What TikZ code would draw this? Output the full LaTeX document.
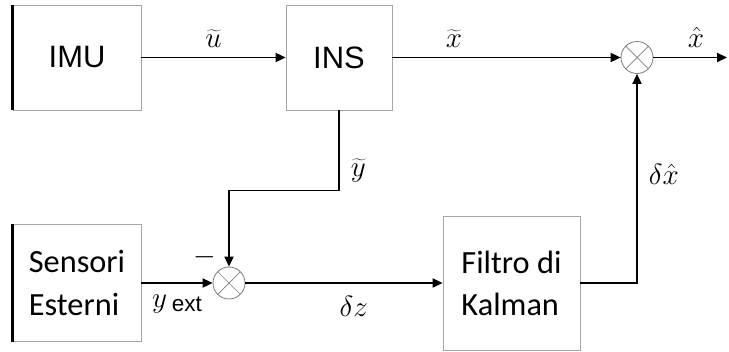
\documentclass[tikz,border=0pt]{standalone}
\usepackage{fontspec}
\setsansfont{Liberation Sans}
\newfontfamily\calibri{Carlito}
\usetikzlibrary{arrows.meta}
\tikzstyle{block} = [rectangle, 
draw=gray!70, 
line width=0.6pt, 
text centered, 
font=\fontsize{22}{26}\selectfont\sffamily]
\tikzstyle{textblock} = [rectangle, 
draw=gray!70, 
line width=0.6pt, 
align=left, 
font=\fontsize{23}{30}\selectfont\calibri]
\tikzstyle{mult} = [circle, 
draw=gray, 
line width=0.6pt, 
minimum size=0.8cm, 
inner sep=0pt, 
path picture={\draw[gray, line width=0.5pt]
  (path picture bounding box.center) ++(45:0.4cm) -- ++(225:0.8cm)
  (path picture bounding box.center) ++(135:0.4cm) -- ++(-45:0.8cm);}]
\tikzstyle{lbl} = [font=\fontsize{21}{24}\selectfont, inner sep=2pt]
\tikzstyle{arrow} = [line width=0.9pt,->,>={Triangle[length=2.5mm,width=2.3mm]}]
\tikzstyle{edge} = [line width=1.9pt]

\begin{document}
\begin{tikzpicture}[node distance=3cm]
\useasboundingbox (-1.925,1.4375) rectangle (16.3,-7.3375);

\node (imu) [block, minimum width=3.2cm, minimum height=2.625cm] {IMU};
\node (ins) [block, right of=imu, xshift=3.55cm, 
             minimum width=2.65cm, minimum height=2.625cm] {INS};
\node (mult1) [mult, right of=ins, xshift=4.45cm] {};
\node (out) [coordinate, right of=mult1, xshift=-0.75cm] {};

\node (sensori) [textblock, below of=imu, yshift=-2.6375cm, 
                 minimum width=3.2cm, minimum height=2.925cm] 
                {Sensori\\Esterni};
\node (mult2) [mult, right of=sensori, xshift=0.8cm, 
               label={[lbl, label distance=0pt]128:$-$}] {};
\node (filtro) [textblock, right of=mult2, xshift=4.0625cm, 
                minimum width=3.425cm, minimum height=3.35cm] 
               {Filtro di\\Kalman};

% thick left edges
\draw [edge] (imu.north west) -- (imu.south west);
\draw [edge] (sensori.north west) -- (sensori.south west);

\draw [arrow] (imu) -- node[lbl, above, yshift=5pt] {$\widetilde{u}$} (ins);
\draw [arrow] (ins) -- node[lbl, above, yshift=5pt, pos=0.27] {$\widetilde{x}$} (mult1);
\draw [arrow] (mult1) -- node[lbl, above, yshift=5pt, pos=0.58] {$\hat{x}$} (out);
\draw [arrow] (ins.south) -- node[lbl, right, pos=0.75, xshift=6pt] {$\widetilde{y}$} 
              ++(0,-2) -| (mult2.north);
\draw [arrow] (sensori.east |- mult2) -- node[lbl, below, yshift=-6pt] 
              {$y$\,\raisebox{-3pt}{\fontsize{16}{18}\selectfont\sffamily ext}} (mult2);
\draw [arrow] (mult2) -- node[lbl, below, yshift=-7pt, pos=0.55] {$\delta z$} (filtro);
\draw [arrow] (filtro.east |- mult2) -| node[lbl, right, pos=0.76, xshift=6pt] 
              {$\delta\hat{x}$} (mult1.south);

\end{tikzpicture}
\end{document}
